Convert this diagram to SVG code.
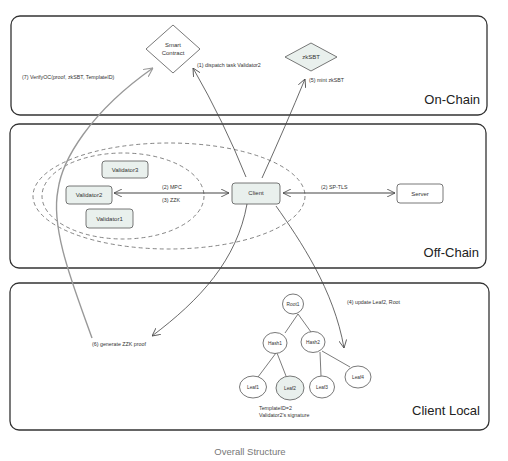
<svg xmlns="http://www.w3.org/2000/svg" width="508" height="461" viewBox="0 0 508 461">
<style>
.panel{fill:#fff;stroke:#333;stroke-width:1.3}
.plabel{font-family:"Liberation Sans",Arial,sans-serif;font-size:13px;fill:#222}
.node{fill:#e9f0ed;stroke:#555;stroke-width:0.8}
.nodew{fill:#fff;stroke:#555;stroke-width:0.8}
.nt{font-family:"Liberation Sans",Arial,sans-serif;font-size:6px;fill:#333;text-anchor:middle}
.lt{font-family:"Liberation Sans",Arial,sans-serif;font-size:5.3px;fill:#333}
.dash{fill:none;stroke:#666;stroke-width:0.8;stroke-dasharray:4 3}
.edge{fill:none;stroke:#444;stroke-width:0.8}
.tree{fill:none;stroke:#444;stroke-width:0.7}
</style>
<defs>
<marker id="ah" viewBox="0 0 10 10" refX="10" refY="5" markerWidth="8" markerHeight="8" orient="auto-start-reverse" markerUnits="userSpaceOnUse">
<path d="M0,0 L10,5 L0,10" fill="none" stroke="#444" stroke-width="1"/>
</marker>
<marker id="ahg" viewBox="0 0 10 10" refX="10" refY="5" markerWidth="9" markerHeight="9" orient="auto" markerUnits="userSpaceOnUse">
<path d="M0,0 L10,5 L0,10" fill="none" stroke="#999" stroke-width="1.2"/>
</marker>
</defs>
<rect width="508" height="461" fill="#fff"/>

<g id="panel-onchain">
<rect class="panel" x="11" y="16" width="476" height="99" rx="9"/>
<text class="plabel" x="480" y="104" text-anchor="end">On-Chain</text>
</g>
<g id="panel-offchain">
<rect class="panel" x="10" y="124" width="476" height="144" rx="9"/>
<text class="plabel" x="479" y="257" text-anchor="end">Off-Chain</text>
</g>
<g id="panel-clientlocal">
<rect class="panel" x="10" y="283" width="479" height="147" rx="9"/>
<text class="plabel" x="480" y="415" text-anchor="end">Client Local</text>
</g>

<g id="groups">
<ellipse class="dash" cx="169" cy="196" rx="136" ry="53"/>
<ellipse class="dash" cx="123" cy="196" rx="81" ry="43"/>
</g>

<g id="connectors">
<path class="edge" d="M246,177 Q224,122 193,68" marker-end="url(#ah)"/>
<path class="edge" d="M262,178 Q286,125 305,79" marker-end="url(#ah)"/>
<path d="M92,338 C75,290 50,230 58,190 C62,160 90,112 153,68" fill="none" stroke="#999" stroke-width="1.4" marker-end="url(#ahg)"/>
<path class="edge" d="M247,204 C237,260 200,300 152,336" marker-end="url(#ah)"/>
<path class="edge" d="M276,206 C300,240 334,290 344,348" marker-end="url(#ah)"/>
<path d="M114,193 L229,193" fill="none" stroke="#444" stroke-width="1.1" marker-start="url(#ah)" marker-end="url(#ah)"/>
<path d="M283,193 L395,193" fill="none" stroke="#444" stroke-width="1.1" marker-start="url(#ah)" marker-end="url(#ah)"/>
<text class="lt" x="197" y="67">(1) dispatch task Validator2</text>
<text class="lt" x="309" y="82">(5) mint zkSBT</text>
<text class="lt" x="22" y="79">(7) VerifyOC(proof, zkSBT, TemplateID)</text>
<text class="lt" x="162" y="189">(2) MPC</text>
<text class="lt" x="162" y="202">(3) ZZK</text>
<text class="lt" x="321" y="189">(2) SP-TLS</text>
<text class="lt" x="92" y="346">(6) generate ZZK proof</text>
<text class="lt" x="347" y="304">(4) update Leaf2, Root</text>
</g>

<g id="smart-contract">
<path class="nodew" d="M173,25 L200,49 L173,73 L146,49 Z" stroke-linejoin="round"/>
<text class="nt" x="173" y="47">Smart</text>
<text class="nt" x="173" y="55">Contract</text>
</g>
<g id="zksbt">
<path class="node" d="M311,43 L337,57 L311,71 L285,57 Z" stroke-linejoin="round"/>
<text class="nt" x="311" y="59">zkSBT</text>
</g>
<g id="validator3">
<rect class="node" x="102" y="161" width="46" height="17" rx="3"/>
<text class="nt" x="125" y="172">Validator3</text>
</g>
<g id="validator2">
<rect class="node" x="66" y="186" width="46" height="18" rx="3"/>
<text class="nt" x="89" y="197">Validator2</text>
</g>
<g id="validator1">
<rect class="node" x="86" y="209" width="47" height="19" rx="3"/>
<text class="nt" x="109.5" y="221">Validator1</text>
</g>
<g id="client">
<rect class="node" x="232" y="183" width="48" height="21" rx="3"/>
<text class="nt" x="256" y="195">Client</text>
</g>
<g id="server">
<rect class="nodew" x="397" y="184" width="46" height="19" rx="3"/>
<text class="nt" x="420" y="196">Server</text>
</g>

<g id="tree-edges">
<path class="tree" d="M298,314 L285,333"/>
<path class="tree" d="M298,314 L311,332"/>
<path class="tree" d="M276,353 L258,377"/>
<path class="tree" d="M277,353 L286,376"/>
<path class="tree" d="M320,352 L321,376"/>
<path class="tree" d="M322,351 L350,367"/>
</g>
<g id="root1">
<ellipse class="nodew" cx="293" cy="304" rx="10.5" ry="10"/>
<text class="nt" x="293" y="306" style="font-size:4.8px">Root1</text>
</g>
<g id="hash1">
<ellipse class="nodew" cx="275" cy="343" rx="12" ry="10.5"/>
<text class="nt" x="275" y="345" style="font-size:4.8px">Hash1</text>
</g>
<g id="hash2">
<ellipse class="nodew" cx="313" cy="342" rx="12" ry="10.5"/>
<text class="nt" x="313" y="344" style="font-size:4.8px">Hash2</text>
</g>
<g id="leaf1">
<ellipse class="nodew" cx="253" cy="387" rx="13.5" ry="11"/>
<text class="nt" x="253" y="389" style="font-size:4.8px">Leaf1</text>
</g>
<g id="leaf2">
<ellipse class="node" cx="290" cy="388" rx="14" ry="12"/>
<text class="nt" x="290" y="390" style="font-size:4.8px">Leaf2</text>
</g>
<g id="leaf3">
<ellipse class="nodew" cx="322" cy="387" rx="12.5" ry="11"/>
<text class="nt" x="322" y="389" style="font-size:4.8px">Leaf3</text>
</g>
<g id="leaf4">
<ellipse class="nodew" cx="358" cy="377" rx="13" ry="11"/>
<text class="nt" x="358" y="379" style="font-size:4.8px">Leaf4</text>
</g>
<g id="leaf2-note">
<text class="lt" x="259" y="410">TemplateID=2</text>
<text class="lt" x="259" y="417">Validator2's signature</text>
</g>

<text x="250" y="455" text-anchor="middle" style="font-family:'Liberation Sans',Arial,sans-serif;font-size:9.5px;fill:#777">Overall Structure</text>
</svg>
